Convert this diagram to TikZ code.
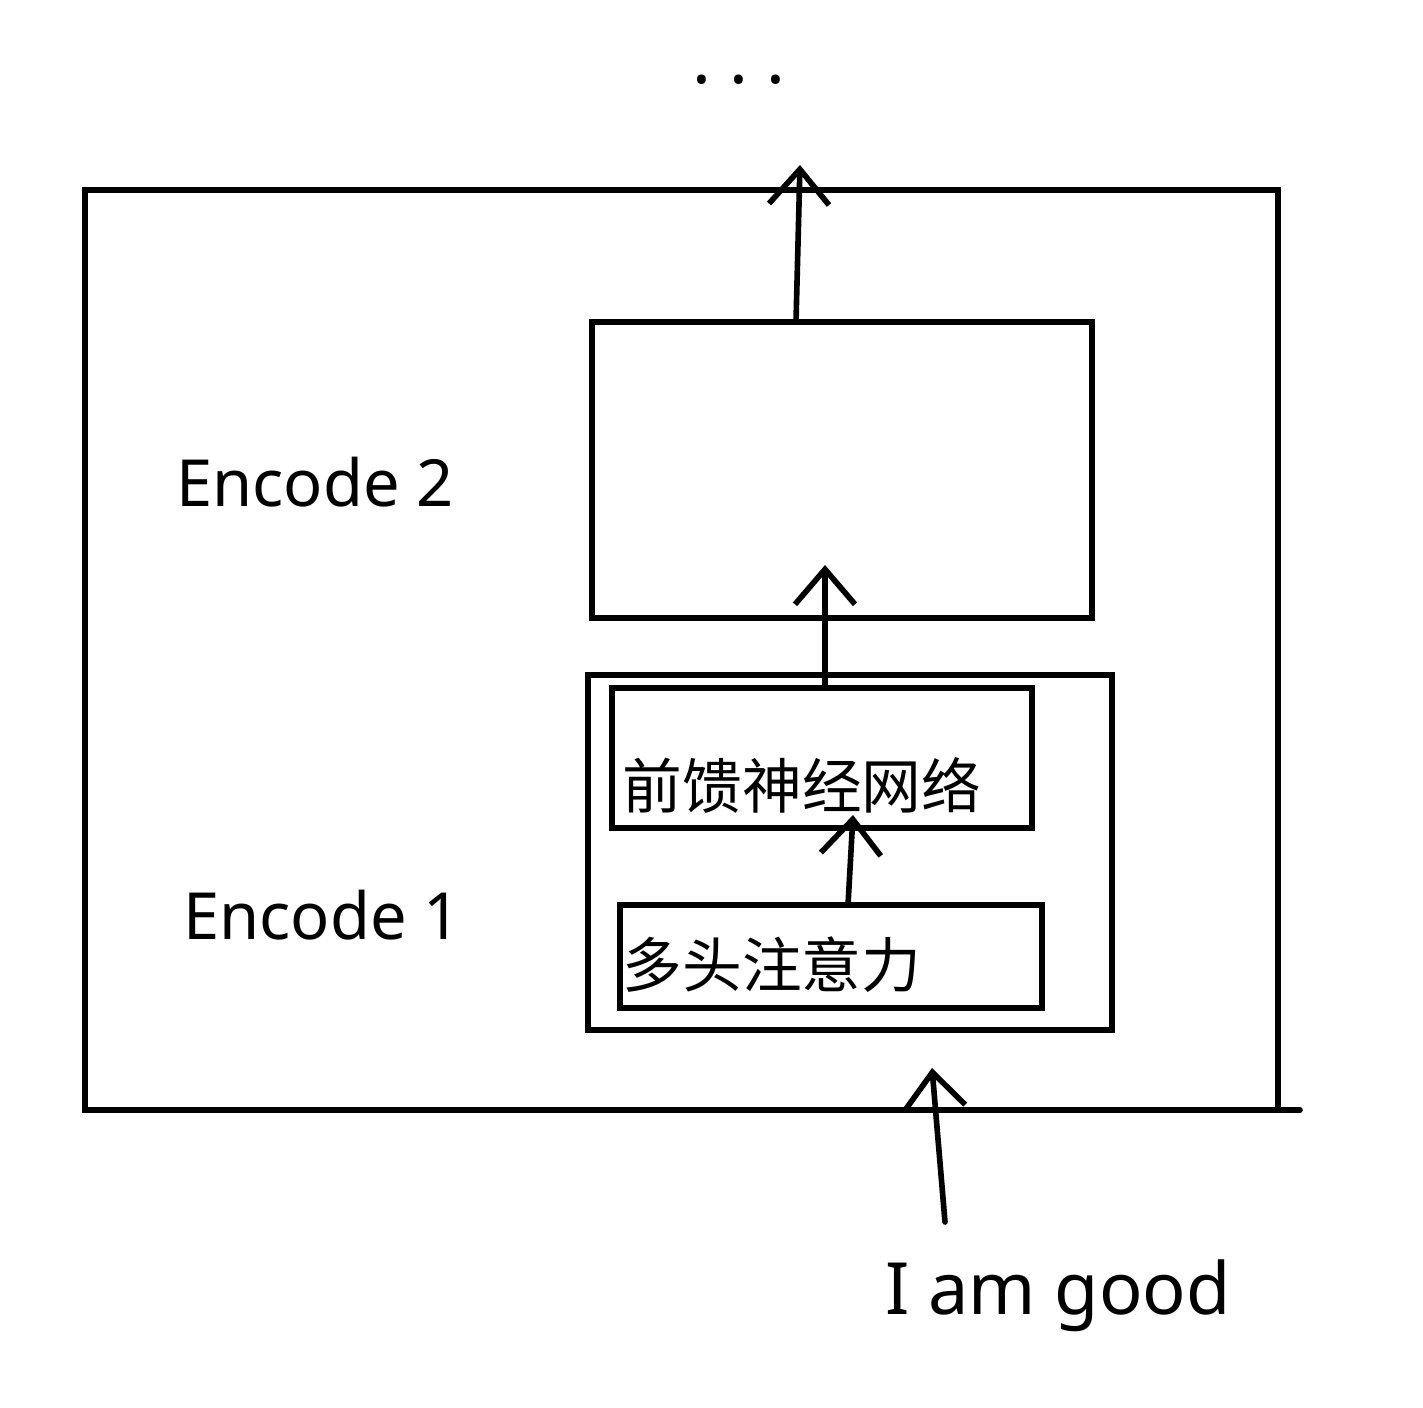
\documentclass[tikz,border=0pt]{standalone}
\usepackage{fontspec}
\setmainfont{Noto Sans}
\newfontfamily\cjk{Noto Sans CJK SC}
\usetikzlibrary{arrows.meta}
\begin{document}
\begin{tikzpicture}[x=0.02cm,y=-0.02cm,
  line width=3.2pt,
  box/.style={draw, line width=3.2pt, inner sep=0pt, outer sep=0pt, anchor=north west, rectangle},
  flow/.style={-{Straight Barb[length=0.7cm,width=1.2cm,line width=3.2pt]}, line width=3.2pt, line cap=round},
  lbl/.style={font=\fontsize{37}{44}\selectfont, inner sep=0pt},
  zh/.style={font=\cjk\fontsize{34}{40}\selectfont, inner sep=0pt}]
\useasboundingbox (0,0) rectangle (1423,1408);
% boxes
\node[box, minimum width=23.86cm, minimum height=18.4cm] (outer) at (85,190) {};
\node[box, minimum width=10cm, minimum height=5.92cm] (enc2) at (592,322) {};
\node[box, minimum width=10.48cm, minimum height=7.1cm] (enc1) at (588,675) {};
\node[box, minimum width=8.4cm, minimum height=2.8cm] (ffn) at (612,688) {};
\node[box, minimum width=8.44cm, minimum height=2.06cm] (mha) at (620,905) {};
% texts
\node[zh] (ffnt) at (802,785) {前馈神经网络};
\node[zh] (mhat) at (772,965) {多头注意力};
\node[lbl] (e2) at (315,482) {Encode 2};
\node[lbl] (e1) at (322,915) {Encode 1};
\node[font=\fontsize{41}{48}\selectfont, inner sep=0pt] (good) at (1058,1296) {I am good};
\node[font=\fontsize{40}{48}\selectfont, inner sep=0pt] (dots) at (739,80) {.\ .\ .};
% coordinates
\coordinate (bx) at (1300,0);
\coordinate (bext) at (outer.south east -| bx);
\coordinate (inTip) at (932,1068);
\coordinate (inTail) at (945,1222);
\coordinate (mffTip) at (853,815);
\coordinate (ffeTip) at (825,565);
\coordinate (outTip) at (800,165);
% connectors
\draw[line cap=round] (outer.south east) -- (bext);
\draw[flow] (inTail) -- (inTip);
\draw[flow] (mha.north -| 848,0) -- (mffTip);
\draw[flow] (ffn.north -| 825,0) -- (ffeTip);
\draw[flow] (enc2.north -| 796,0) -- (outTip);
\end{tikzpicture}
\end{document}
